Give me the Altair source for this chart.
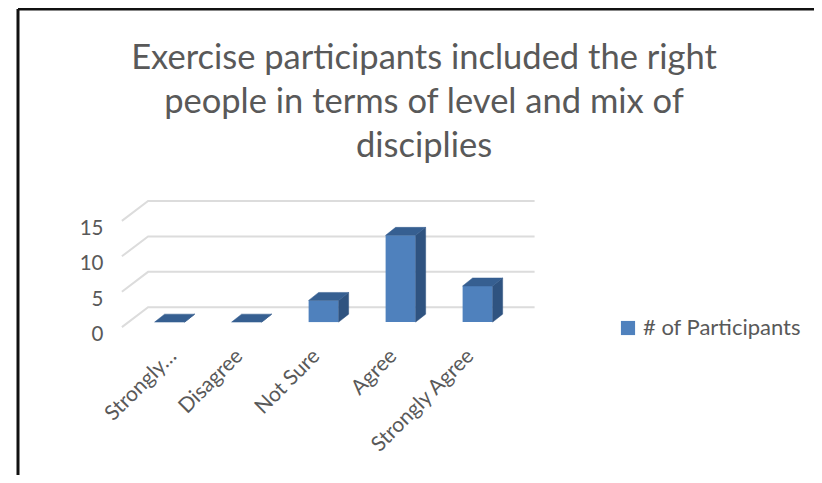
import altair as alt
import pandas as pd

categories = ["Strongly Disagree", "Disagree", "Not Sure", "Agree", "Strongly Agree"]
short_labels = ["Strongly…", "Disagree", "Not Sure", "Agree", "Strongly Agree"]
label_shift = [0.14, 0, 0, 0, 0]
values = [0, 0, 3, 12, 5]
y_ticks = [0, 5, 10, 15]
series_name = "# of Participants"
title_lines = ["Exercise participants included the right",
               "people in terms of level and mix of",
               "disciplies"]

FONT = "Lato"
TEXT = "#595959"
FRONT, SIDE, TOP = "#4f81bd", "#2f5380", "#365f91"
GRID = "#dcdcdc"

# Projection constants of the pseudo-3D chart, in axis units
BAR_HALF = 0.195     # half bar width, in category steps
BAR_DX = 0.13        # bar depth, horizontal
BAR_DY = 1.1         # bar depth, vertical
WALL_DX = 0.34       # floor depth, horizontal
WALL_DY = 2.75       # floor depth, vertical
FLOOR_LEFT = -0.62
FLOOR_RIGHT = 4.74
FRONT_OFFSET = -0.7
UNIT = 0.98

W, H = 796, 466
xs = alt.Scale(domain=[-1.9692, -1.9692 + W / 77.0], nice=False, zero=False)
ys = alt.Scale(domain=[43.3 - H / 7.2308, 43.3], nice=False, zero=False)
X = alt.X("x:Q", scale=xs, axis=None)
Y = alt.Y("y:Q", scale=ys, axis=None, stack=False)

front = pd.DataFrame({"x": [i - BAR_HALF for i in range(5)],
                      "x2": [i + BAR_HALF for i in range(5)],
                      "y": values, "y2": [0] * 5,
                      "series": [series_name] * 5})
side_rows, top_rows = [], []
for i, v in enumerate(values):
    l, r = i - BAR_HALF, i + BAR_HALF
    side_rows += [{"b": i, "x": r, "y": v, "yb": 0},
                  {"b": i, "x": r + BAR_DX, "y": v + BAR_DY, "yb": BAR_DY}]
    top_rows += [{"b": i, "x": l, "y": v, "yb": v},
                 {"b": i, "x": l + BAR_DX, "y": v + BAR_DY, "yb": v},
                 {"b": i, "x": r, "y": v + BAR_DY, "yb": v},
                 {"b": i, "x": r + BAR_DX, "y": v + BAR_DY, "yb": v + BAR_DY}]

grid_rows = []
for t in y_ticks:
    fy = FRONT_OFFSET + t * UNIT
    grid_rows += [{"g": t, "x": FLOOR_LEFT, "y": fy},
                  {"g": t, "x": FLOOR_LEFT + WALL_DX, "y": fy + WALL_DY},
                  {"g": t, "x": FLOOR_RIGHT, "y": fy + WALL_DY}]

grid = alt.Chart(pd.DataFrame(grid_rows)).mark_line(
    color=GRID, strokeWidth=2, clip=False).encode(X, Y, detail="g:N", order=alt.Order("x:Q"))
bars = alt.Chart(front).mark_bar(stroke=None).encode(
    x=X, x2="x2:Q", y=Y, y2="y2:Q",
    color=alt.Color("series:N",
                    scale=alt.Scale(domain=[series_name], range=[FRONT]),
                    legend=alt.Legend(orient="none", legendX=599, legendY=308, title=None,
                                      symbolType="square", symbolSize=200,
                                      symbolStrokeWidth=0,
                                      labelFont=FONT, labelFontSize=22, labelColor=TEXT,
                                      labelLimit=300, labelOffset=4)))
side = alt.Chart(pd.DataFrame(side_rows)).mark_area(fill=SIDE, stroke=SIDE, strokeWidth=0.5).encode(
    x=X, y=Y, y2=alt.Y2("yb:Q"), detail="b:N")
top = alt.Chart(pd.DataFrame(top_rows)).mark_area(fill=TOP, stroke=TOP, strokeWidth=0.5).encode(
    x=X, y=Y, y2=alt.Y2("yb:Q"), detail="b:N")

ylabels = alt.Chart(pd.DataFrame({
    "x": [FLOOR_LEFT - 0.24] * 4,
    "y": [FRONT_OFFSET + t * UNIT for t in y_ticks],
    "t": [str(t) for t in y_ticks]})).mark_text(
    font=FONT, fontSize=20.5, color=TEXT, align="right", baseline="middle", dy=8).encode(X, Y, text="t:N")

xlabels = alt.Chart(pd.DataFrame({
    "x": [i - 0.09 + s for i, s in enumerate(label_shift)], "y": [-4.3] * 5, "t": short_labels})).mark_text(
    font=FONT, fontSize=21, color=TEXT, align="right", baseline="middle", angle=315).encode(X, Y, text="t:N")

frame_top = alt.Chart().mark_rule(color="#111111", strokeWidth=3).encode(
    x=alt.value(0), x2=alt.value(W), y=alt.value(0))
frame_left = alt.Chart().mark_rule(color="#111111", strokeWidth=3).encode(
    x=alt.value(0), y=alt.value(0), y2=alt.value(H))

chart = alt.layer(grid, bars, side, top, ylabels, xlabels, frame_top, frame_left).properties(
    width=W, height=H,
    padding={"left": 10, "top": 1, "right": 0, "bottom": 0},
    autosize=alt.AutoSizeParams(type="none"),
    background="white",
    title=alt.TitleParams(text=title_lines, font=FONT, fontSize=34.5, fontWeight="normal",
                          color=TEXT, anchor="middle", dx=8, offset=-184, lineHeight=44,
                          baseline="alphabetic"),
).configure_view(stroke=None)

chart.save("out.html", embed_options={"renderer": "svg", "actions": False})
